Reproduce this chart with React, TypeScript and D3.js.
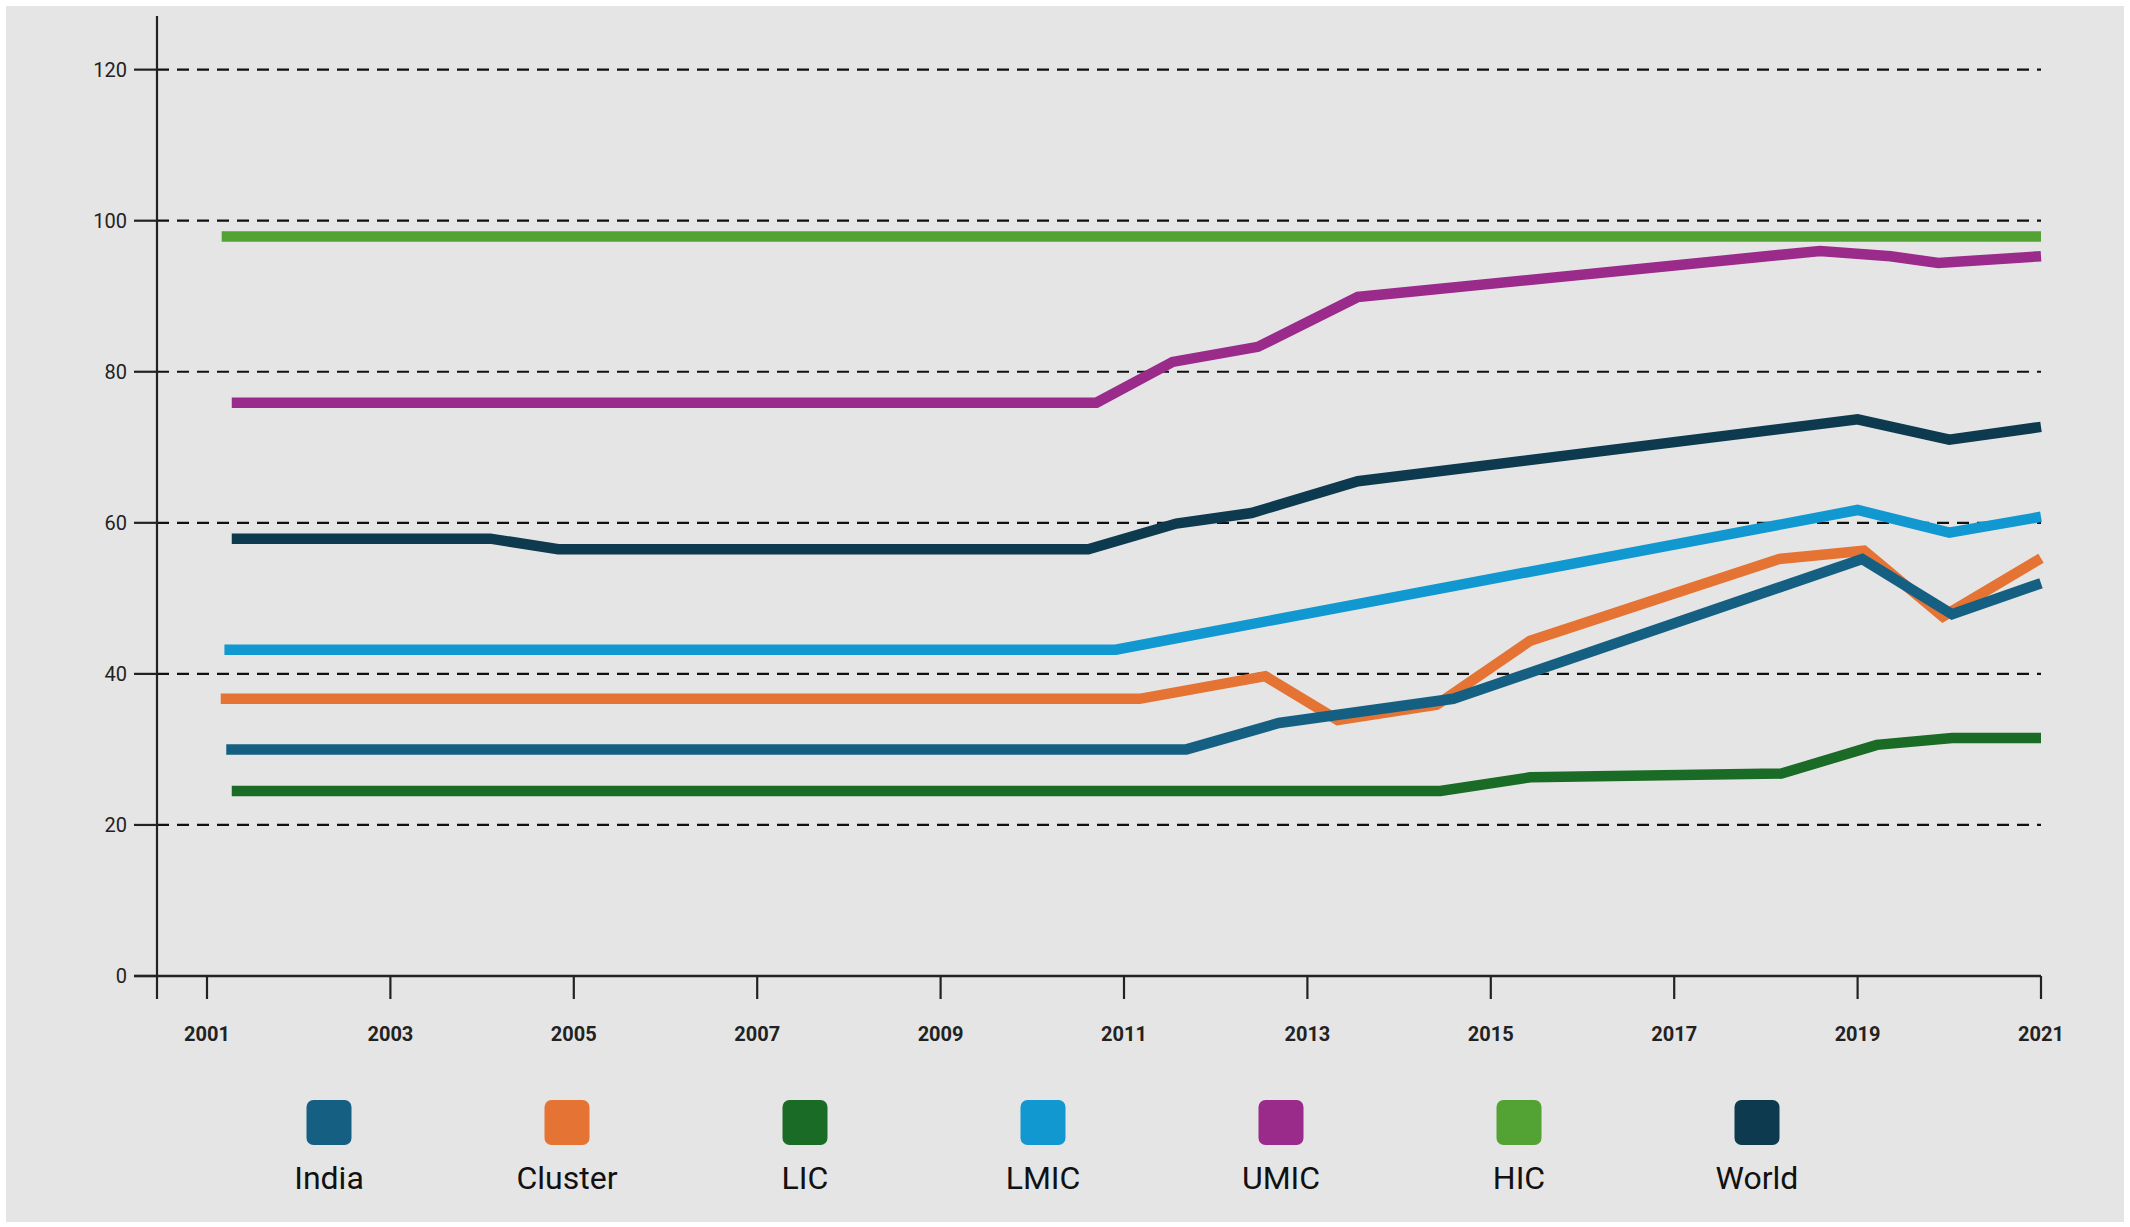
import React, { useEffect } from 'react';
import * as d3 from 'd3';

// series shown in legend order
const seriesNames = ['India', 'Cluster', 'LIC', 'LMIC', 'UMIC', 'HIC', 'World'];
const seriesColors = ['#156082', '#E47334', '#1A6B25', '#1198D0', '#9A2B8A', '#52A333', '#0D3A4F'];

// [year, value] points
const india: [number, number][] = [
  [2001.21, 30.0], [2011.68, 30.0], [2012.69, 33.5], [2014.59, 36.7], [2015.46, 40.3],
  [2019.05, 55.2], [2020.03, 47.9], [2021, 52.0],
];
const cluster: [number, number][] = [
  [2001.15, 36.7], [2011.17, 36.7], [2012.54, 39.7], [2013.33, 33.9], [2014.41, 35.9],
  [2015.43, 44.4], [2018.14, 55.2], [2019.07, 56.3], [2019.93, 47.6], [2021, 55.3],
];
const lic: [number, number][] = [
  [2001.27, 24.5], [2014.45, 24.5], [2015.43, 26.3], [2018.17, 26.8], [2019.21, 30.6],
  [2020.03, 31.5], [2021, 31.5],
];
const lmic: [number, number][] = [
  [2001.19, 43.2], [2010.91, 43.2], [2019, 61.7], [2020, 58.7], [2021, 60.8],
];
const umic: [number, number][] = [
  [2001.27, 75.9], [2010.7, 75.9], [2011.53, 81.3], [2012.46, 83.3], [2013.55, 89.9],
  [2018.59, 96.0], [2019.36, 95.3], [2019.88, 94.4], [2021, 95.3],
];
const hic: [number, number][] = [
  [2001.16, 97.9], [2021, 97.9],
];
const world: [number, number][] = [
  [2001.27, 57.9], [2004.09, 57.9], [2004.83, 56.5], [2010.61, 56.5], [2011.57, 59.9],
  [2012.39, 61.3], [2013.55, 65.5], [2019, 73.7], [2020, 71.0], [2021, 72.7],
];

const seriesData = [india, cluster, lic, lmic, umic, hic, world];
// drawing order, India ends up on top
const drawOrder = ['HIC', 'UMIC', 'World', 'LMIC', 'LIC', 'Cluster', 'India'];

const yTicks = [0, 20, 40, 60, 80, 100, 120];
const xTicks = [2001, 2003, 2005, 2007, 2009, 2011, 2013, 2015, 2017, 2019, 2021];

export default function App() {
  useEffect(() => {
    document.body.style.margin = '0';
  }, []);

  const W = 2130;
  const H = 1227;
  const axisX = 157;
  const axisY = 976;

  const x = d3.scaleLinear().domain([2001, 2021]).range([207, 2041]);
  const y = d3.scaleLinear().domain([0, 100]).range([976, 220.7]);
  const legendX = d3.scalePoint<string>().domain(seriesNames).range([329, 1757]);

  const line = d3.line<[number, number]>()
    .x(d => x(d[0]))
    .y(d => y(d[1]));

  const font = 'Roboto, "Noto Sans", sans-serif';

  return (
    <svg width={W} height={H} style={{ display: 'block' }}>
      <rect x={0} y={0} width={W} height={H} fill="#ffffff" />
      <rect x={6} y={6} width={2118} height={1216} fill="#E5E5E5" />

      {/* gridlines */}
      {yTicks.filter(t => t > 0).map(t => (
        <line key={'g' + t} x1={axisX} x2={x(2021)} y1={y(t)} y2={y(t)}
          stroke="#111" strokeWidth={2.2} strokeDasharray="12,8" />
      ))}

      {/* y axis */}
      <line x1={axisX} x2={axisX} y1={16} y2={999} stroke="#222" strokeWidth={2.2} />
      {yTicks.map(t => (
        <g key={'y' + t}>
          <line x1={134} x2={axisX} y1={y(t)} y2={y(t)} stroke="#222" strokeWidth={2.2} />
          <text x={127} y={y(t)} dy="0.35em" textAnchor="end" fontFamily={font}
            fontSize={20} fill="#222">{t}</text>
        </g>
      ))}

      {/* x axis */}
      <line x1={134} x2={x(2021)} y1={axisY} y2={axisY} stroke="#222" strokeWidth={2.6} />
      {xTicks.map(t => (
        <g key={'x' + t}>
          <line x1={x(t)} x2={x(t)} y1={axisY} y2={999} stroke="#222" strokeWidth={2.2} />
          <text x={x(t)} y={1041} textAnchor="middle" fontFamily={font}
            fontSize={20} fontWeight="bold" fill="#222">{t}</text>
        </g>
      ))}

      {/* lines */}
      {drawOrder.map(name => {
        const i = seriesNames.indexOf(name);
        return (
          <path key={name} d={line(seriesData[i]) || ''} fill="none"
            stroke={seriesColors[i]} strokeWidth={10.5}
            strokeLinejoin="miter" strokeLinecap="butt" />
        );
      })}

      {/* legend */}
      {seriesNames.map((name, i) => {
        const cx = legendX(name) || 0;
        return (
          <g key={'l' + name}>
            <rect x={cx - 22.5} y={1100} width={45} height={45} rx={7}
              fill={seriesColors[i]} />
            <text x={cx} y={1189} textAnchor="middle" fontFamily={font}
              fontSize={32} fill="#111">{name}</text>
          </g>
        );
      })}
    </svg>
  );
}
